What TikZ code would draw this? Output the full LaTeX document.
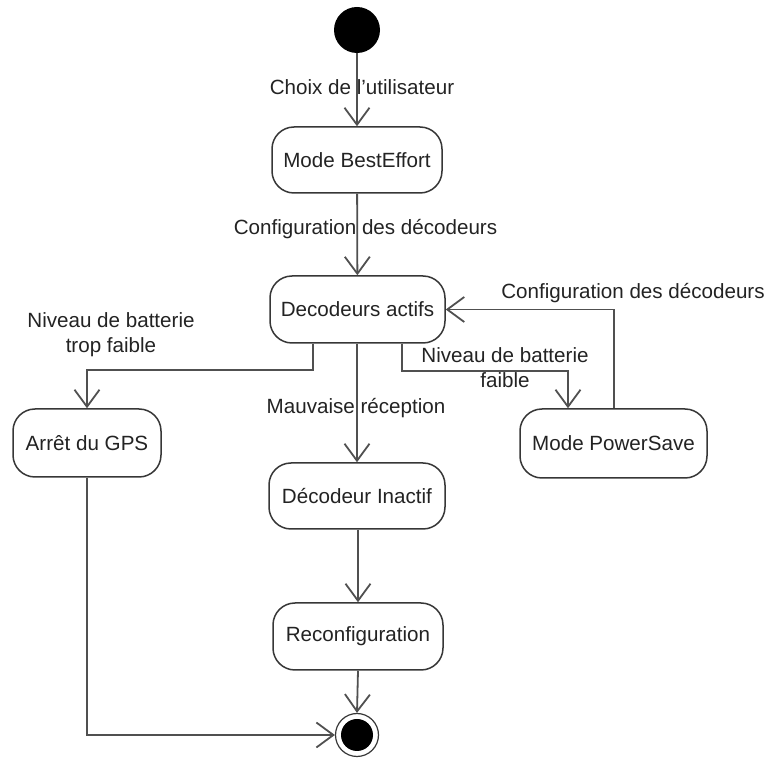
\documentclass[tikz,border=0pt]{standalone}
\usepackage{fontspec}
\setmainfont{Liberation Sans}
\usetikzlibrary{arrows.meta}
\definecolor{edge}{RGB}{80,80,80}
\definecolor{rim}{RGB}{55,55,55}
\definecolor{ink}{RGB}{35,35,35}
\tikzset{
  statebox/.style={draw=rim, line width=0.75pt, rounded corners=11pt, fill=white,
    text=ink, font=\fontsize{10.3}{12.5}\selectfont, inner sep=0pt},
  flow/.style={draw=edge, line width=0.9pt,
    -{Straight Barb[length=8.5pt, width=12.5pt, line width=0.9pt]}},
  lbl/.style={text=ink, font=\fontsize{10.3}{12.5}\selectfont, align=center, inner sep=0pt}
}
\begin{document}
\begin{tikzpicture}[x=0.5pt, y=-0.5pt]
  \useasboundingbox (0,0) rectangle (773,759);

  % initial and final states
  \node[circle, fill=black, minimum size=23pt, inner sep=0pt] (start) at (357,30) {};
  \node[circle, draw=rim, line width=0.6pt, fill=white, minimum size=21.5pt, inner sep=0pt] (fin) at (357,735) {};
  \fill[black] (fin.center) circle (8pt);

  % states
  \node[statebox, minimum width=85pt, minimum height=33pt] (best) at (357,160) {Mode BestEffort};
  \node[statebox, minimum width=87.5pt, minimum height=33.5pt] (act) at (357.5,309.5) {Decodeurs actifs};
  \node[statebox, minimum width=74pt, minimum height=34pt] (gps) at (87,443) {Arrêt du GPS};
  \node[statebox, minimum width=93.5pt, minimum height=34.5pt] (ps) at (613.5,443.5) {Mode PowerSave};
  \node[statebox, minimum width=88pt, minimum height=33pt] (inact) at (357,496) {Décodeur Inactif};
  \node[statebox, minimum width=85pt, minimum height=33.5pt] (reconf) at (358,636.5) {Reconfiguration};

  % transitions
  \draw[flow] (start) -- (best);
  \draw[flow] (best) -- (act);
  \draw[flow] (act.south -| inact.north) -- (inact.north);
  \draw[flow] (inact.south -| reconf.north) -- (reconf.north);
  \draw[flow] (reconf.south) -- (fin.north);
  \draw[flow] ([xshift=-22.25pt]act.south) -- ++(0,26) -| (gps.north);
  \draw[flow] ([xshift=22.25pt]act.south) -- ++(0,27) -| ([xshift=-22.75pt]ps.north);
  \draw[flow] ([xshift=0.25pt]ps.north) |- (act.east);
  \draw[flow] (gps.south) |- (fin.west);

  % transition labels
  \node[lbl] (l1) at (362,87) {Choix de l'utilisateur};
  \node[lbl] (l2) at (365.5,229) {Configuration des décodeurs};
  \node[lbl] (l3) at (633,293) {Configuration des décodeurs};
  \node[lbl] (l4) at (111,334.5) {Niveau de batterie\\trop faible};
  \node[lbl] (l5) at (505,368) {Niveau de batterie\\faible};
  \node[lbl] (l6) at (356,408) {Mauvaise réception};
\end{tikzpicture}
\end{document}
